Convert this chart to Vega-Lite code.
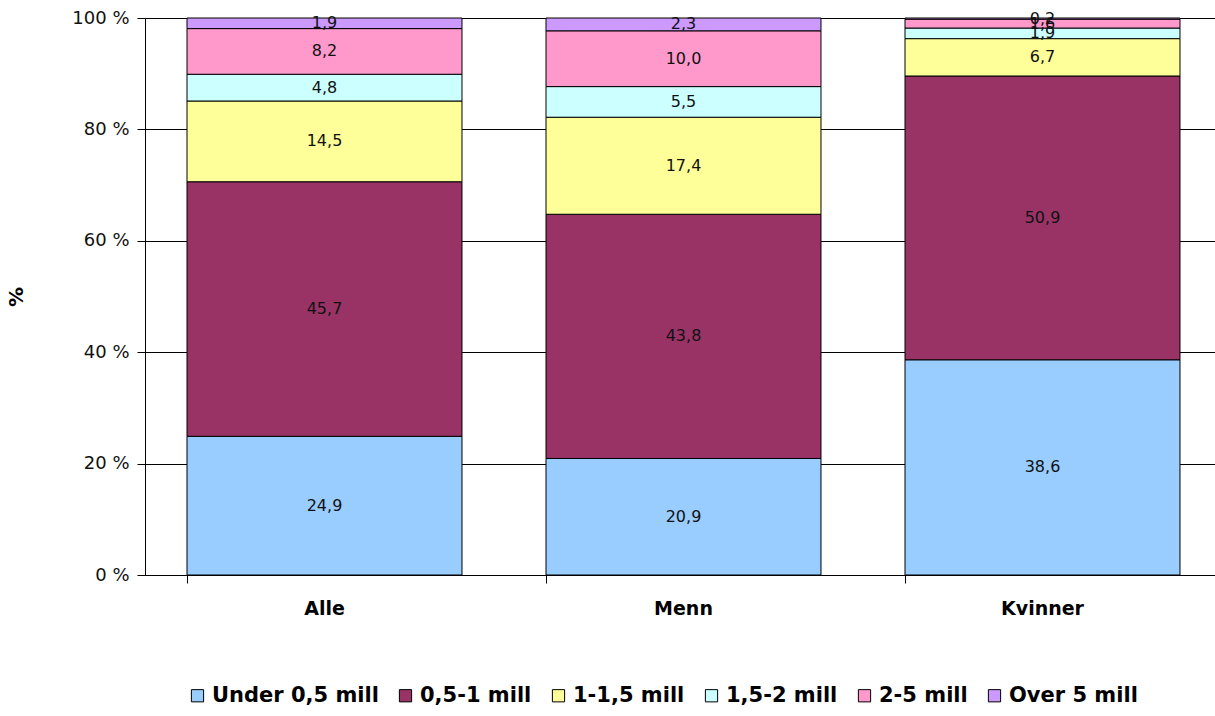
{
  "$schema": "https://vega.github.io/schema/vega-lite/v6.json",
  "width": 1077,
  "height": 557,
  "autosize": {"type": "none"},
  "padding": {"left": 145, "top": 18, "right": 0, "bottom": 141},
  "background": "white",
  "config": {
    "view": {"stroke": null},
    "locale": {"number": {"decimal": ",", "thousands": " ", "grouping": [3], "currency": ["", " kr"]}}
  },
  "data": {
    "values": [
      {"gruppe": "Alle", "kategori": "Under 0,5 mill", "rekkefolge": 1, "andel": 24.9},
      {"gruppe": "Alle", "kategori": "0,5-1 mill", "rekkefolge": 2, "andel": 45.7},
      {"gruppe": "Alle", "kategori": "1-1,5 mill", "rekkefolge": 3, "andel": 14.5},
      {"gruppe": "Alle", "kategori": "1,5-2 mill", "rekkefolge": 4, "andel": 4.8},
      {"gruppe": "Alle", "kategori": "2-5 mill", "rekkefolge": 5, "andel": 8.2},
      {"gruppe": "Alle", "kategori": "Over 5 mill", "rekkefolge": 6, "andel": 1.9},
      {"gruppe": "Menn", "kategori": "Under 0,5 mill", "rekkefolge": 1, "andel": 20.9},
      {"gruppe": "Menn", "kategori": "0,5-1 mill", "rekkefolge": 2, "andel": 43.8},
      {"gruppe": "Menn", "kategori": "1-1,5 mill", "rekkefolge": 3, "andel": 17.4},
      {"gruppe": "Menn", "kategori": "1,5-2 mill", "rekkefolge": 4, "andel": 5.5},
      {"gruppe": "Menn", "kategori": "2-5 mill", "rekkefolge": 5, "andel": 10.0},
      {"gruppe": "Menn", "kategori": "Over 5 mill", "rekkefolge": 6, "andel": 2.3},
      {"gruppe": "Kvinner", "kategori": "Under 0,5 mill", "rekkefolge": 1, "andel": 38.6},
      {"gruppe": "Kvinner", "kategori": "0,5-1 mill", "rekkefolge": 2, "andel": 50.9},
      {"gruppe": "Kvinner", "kategori": "1-1,5 mill", "rekkefolge": 3, "andel": 6.7},
      {"gruppe": "Kvinner", "kategori": "1,5-2 mill", "rekkefolge": 4, "andel": 1.9},
      {"gruppe": "Kvinner", "kategori": "2-5 mill", "rekkefolge": 5, "andel": 1.6},
      {"gruppe": "Kvinner", "kategori": "Over 5 mill", "rekkefolge": 6, "andel": 0.2}
    ]
  },
  "encoding": {
    "x": {
      "field": "gruppe",
      "type": "nominal",
      "sort": ["Alle", "Menn", "Kvinner"],
      "scale": {"paddingInner": 0.234, "paddingOuter": 0.117},
      "axis": {
        "title": null,
        "labelAngle": 0,
        "labelFont": "DejaVu Sans",
        "labelFontWeight": "bold",
        "labelFontSize": 19,
        "labelColor": "black",
        "labelPadding": 16,
        "domainColor": "black",
        "tickColor": "black",
        "tickSize": 8,
        "bandPosition": 0
      }
    }
  },
  "layer": [
    {
      "mark": {"type": "bar", "stroke": "black", "strokeWidth": 1},
      "encoding": {
        "y": {
          "field": "andel",
          "type": "quantitative",
          "stack": "normalize",
          "scale": {"domain": [0, 1]},
          "axis": {
            "title": "%",
            "titleFont": "DejaVu Sans",
            "titleFontWeight": "bold",
            "titleFontSize": 20,
            "titleColor": "black",
            "titlePadding": 45,
            "values": [0, 0.2, 0.4, 0.6, 0.8, 1],
            "labelExpr": "format(datum.value * 100, 'd') + ' %'",
            "labelFont": "DejaVu Sans",
            "labelFontSize": 18,
            "labelColor": "#111111",
            "labelPadding": 8,
            "grid": true,
            "gridColor": "black",
            "gridOpacity": 1,
            "gridWidth": 1,
            "domainColor": "black",
            "tickColor": "black",
            "tickSize": 8
          }
        },
        "order": {"field": "rekkefolge", "type": "quantitative"},
        "color": {
          "field": "kategori",
          "type": "nominal",
          "scale": {
            "domain": ["Under 0,5 mill", "0,5-1 mill", "1-1,5 mill", "1,5-2 mill", "2-5 mill", "Over 5 mill"],
            "range": ["#99CCFF", "#993366", "#FFFF99", "#CCFFFF", "#FF99CC", "#CC99FF"]
          },
          "legend": {
            "title": null,
            "orient": "none",
            "legendX": 42,
            "legendY": 667,
            "direction": "horizontal",
            "symbolType": "square",
            "symbolSize": 150,
            "symbolStrokeColor": "black",
            "symbolStrokeWidth": 1,
            "symbolOpacity": 1,
            "labelFont": "DejaVu Sans",
            "labelFontWeight": "bold",
            "labelFontSize": 21,
            "labelColor": "black",
            "labelLimit": 400,
            "labelOffset": 4,
            "columnPadding": 16,
            "symbolOffset": 0
          }
        }
      }
    },
    {
      "mark": {"type": "text", "font": "DejaVu Sans", "fontSize": 16, "color": "#111111"},
      "encoding": {
        "y": {"field": "andel", "type": "quantitative", "stack": "normalize", "bandPosition": 0.5},
        "order": {"field": "rekkefolge", "type": "quantitative"},
        "text": {"field": "andel", "type": "quantitative", "format": ".1f"}
      }
    }
  ]
}
